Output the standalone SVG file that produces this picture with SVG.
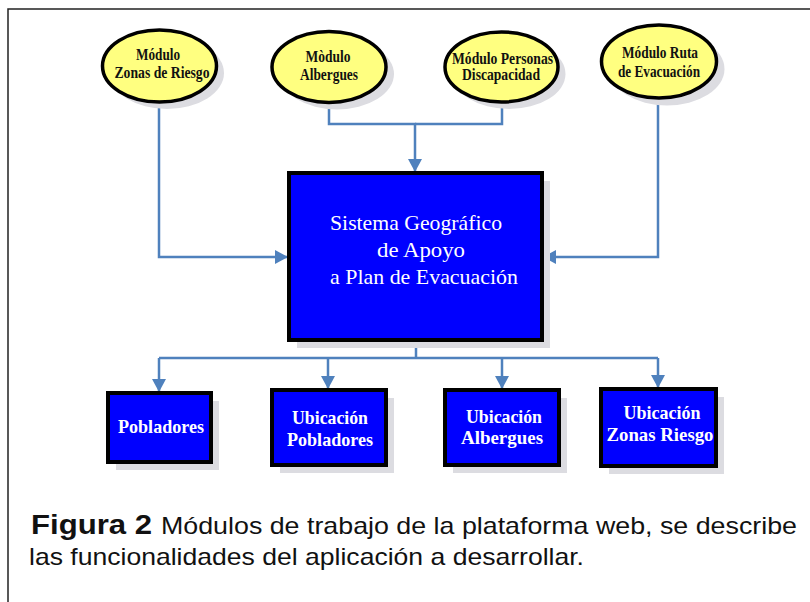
<svg xmlns="http://www.w3.org/2000/svg" width="810" height="602" viewBox="0 0 810 602">
  <style>
    .frame{fill:none;stroke:#222;stroke-width:1.5}
    .shadow{fill:#DCDCE1}
    .ell{fill:#FFFF80;stroke:#000;stroke-width:3.5}
    .box{fill:#0000FF;stroke:#000;stroke-width:4}
    .etxt{font-family:"Liberation Serif","Times New Roman",serif;font-weight:bold;font-size:16px;fill:#111;text-anchor:middle}
    .mtxt{font-family:"Liberation Serif","Times New Roman",serif;font-size:22px;fill:#fff;text-anchor:middle}
    .btxt{font-family:"Liberation Serif","Times New Roman",serif;font-weight:bold;font-size:19px;fill:#fff;text-anchor:middle}
    .conn{fill:none;stroke:#4F81BD;stroke-width:2.5}
    .cap{font-family:"Liberation Sans",Arial,sans-serif;fill:#111}
  </style>
  <defs>
    <marker id="arr" markerUnits="userSpaceOnUse" markerWidth="14" markerHeight="14" refX="13" refY="7" orient="auto">
      <path d="M0,0 L13,7 L0,14 z" fill="#4F81BD"/>
    </marker>
  </defs>

  <rect width="810" height="602" fill="#fff"/>
  <path class="frame" d="M8,602 V9 H810"/>

  <g id="connectors">
    <path class="conn" d="M159,103 V257 H288" marker-end="url(#arr)"/>
    <path class="conn" d="M329,103 V124 H415 V172" marker-end="url(#arr)"/>
    <path class="conn" d="M502,102 V124 H415"/>
    <path class="conn" d="M658,98 V257 H543" marker-end="url(#arr)"/>
    <path class="conn" d="M416,340 V358"/>
    <path class="conn" d="M159,358 H658"/>
    <path class="conn" d="M159,358 V392" marker-end="url(#arr)"/>
    <path class="conn" d="M328,358 V389" marker-end="url(#arr)"/>
    <path class="conn" d="M502,358 V389" marker-end="url(#arr)"/>
    <path class="conn" d="M658,358 V388" marker-end="url(#arr)"/>
  </g>

  <g id="mod-zonas">
    <ellipse class="shadow" cx="167" cy="73" rx="57" ry="36"/>
    <ellipse class="ell" cx="159.5" cy="66" rx="57" ry="36"/>
    <text class="etxt" x="158" y="60" textLength="44" lengthAdjust="spacingAndGlyphs">Módulo</text>
    <text class="etxt" x="162" y="78" textLength="95" lengthAdjust="spacingAndGlyphs">Zonas de Riesgo</text>
  </g>
  <g id="mod-albergues">
    <ellipse class="shadow" cx="337" cy="74" rx="57" ry="35.5"/>
    <ellipse class="ell" cx="329" cy="67" rx="57" ry="35.5"/>
    <text class="etxt" x="328" y="62" textLength="45" lengthAdjust="spacingAndGlyphs">Mòdulo</text>
    <text class="etxt" x="329" y="80" textLength="58" lengthAdjust="spacingAndGlyphs">Albergues</text>
  </g>
  <g id="mod-personas">
    <ellipse class="shadow" cx="509" cy="74" rx="56.5" ry="35"/>
    <ellipse class="ell" cx="501.5" cy="67" rx="56.5" ry="35"/>
    <text class="etxt" x="502.5" y="64" textLength="101" lengthAdjust="spacingAndGlyphs">Módulo Personas</text>
    <text class="etxt" x="501" y="80" textLength="78" lengthAdjust="spacingAndGlyphs">Discapacidad</text>
  </g>
  <g id="mod-ruta">
    <ellipse class="shadow" cx="667" cy="69" rx="57.5" ry="36.5"/>
    <ellipse class="ell" cx="659" cy="61.5" rx="57.5" ry="36.5"/>
    <text class="etxt" x="660" y="58" textLength="76" lengthAdjust="spacingAndGlyphs">Módulo Ruta</text>
    <text class="etxt" x="659" y="77" textLength="82" lengthAdjust="spacingAndGlyphs">de Evacuación</text>
  </g>

  <g id="sistema">
    <rect class="shadow" x="297" y="181" width="253" height="167"/>
    <rect class="box" x="289" y="173" width="253" height="167"/>
    <text class="mtxt" x="416" y="230" textLength="172" lengthAdjust="spacingAndGlyphs">Sistema Geográfico</text>
    <text class="mtxt" x="421" y="257" textLength="88" lengthAdjust="spacingAndGlyphs">de Apoyo</text>
    <text class="mtxt" x="424" y="284" textLength="188" lengthAdjust="spacingAndGlyphs">a Plan de Evacuación</text>
  </g>

  <g id="pobladores">
    <rect class="shadow" x="116" y="401" width="103" height="69"/>
    <rect class="box" x="108" y="393" width="103" height="69"/>
    <text class="btxt" x="161" y="433" textLength="86" lengthAdjust="spacingAndGlyphs">Pobladores</text>
  </g>
  <g id="ubic-pobladores">
    <rect class="shadow" x="280" y="398" width="114" height="75"/>
    <rect class="box" x="272" y="390" width="114" height="75"/>
    <text class="btxt" x="330" y="424" textLength="76" lengthAdjust="spacingAndGlyphs">Ubicación</text>
    <text class="btxt" x="330" y="446" textLength="86" lengthAdjust="spacingAndGlyphs">Pobladores</text>
  </g>
  <g id="ubic-albergues">
    <rect class="shadow" x="453" y="398" width="114" height="75"/>
    <rect class="box" x="445" y="390" width="114" height="75"/>
    <text class="btxt" x="504" y="423" textLength="76" lengthAdjust="spacingAndGlyphs">Ubicación</text>
    <text class="btxt" x="502" y="444" textLength="82" lengthAdjust="spacingAndGlyphs">Albergues</text>
  </g>
  <g id="ubic-zonas">
    <rect class="shadow" x="609" y="397" width="115" height="77"/>
    <rect class="box" x="601" y="389" width="115" height="77"/>
    <text class="btxt" x="662" y="419" textLength="77" lengthAdjust="spacingAndGlyphs">Ubicación</text>
    <text class="btxt" x="660" y="441" textLength="107" lengthAdjust="spacingAndGlyphs">Zonas Riesgo</text>
  </g>

  <g id="caption">
    <text class="cap" x="31" y="534" font-size="27" font-weight="bold" textLength="121" lengthAdjust="spacingAndGlyphs">Figura 2</text>
    <text class="cap" x="161" y="534" font-size="24" textLength="636" lengthAdjust="spacingAndGlyphs">Módulos de trabajo de la plataforma web, se describe</text>
    <text class="cap" x="29" y="565" font-size="24" textLength="555" lengthAdjust="spacingAndGlyphs">las funcionalidades del aplicación a desarrollar.</text>
  </g>
</svg>
